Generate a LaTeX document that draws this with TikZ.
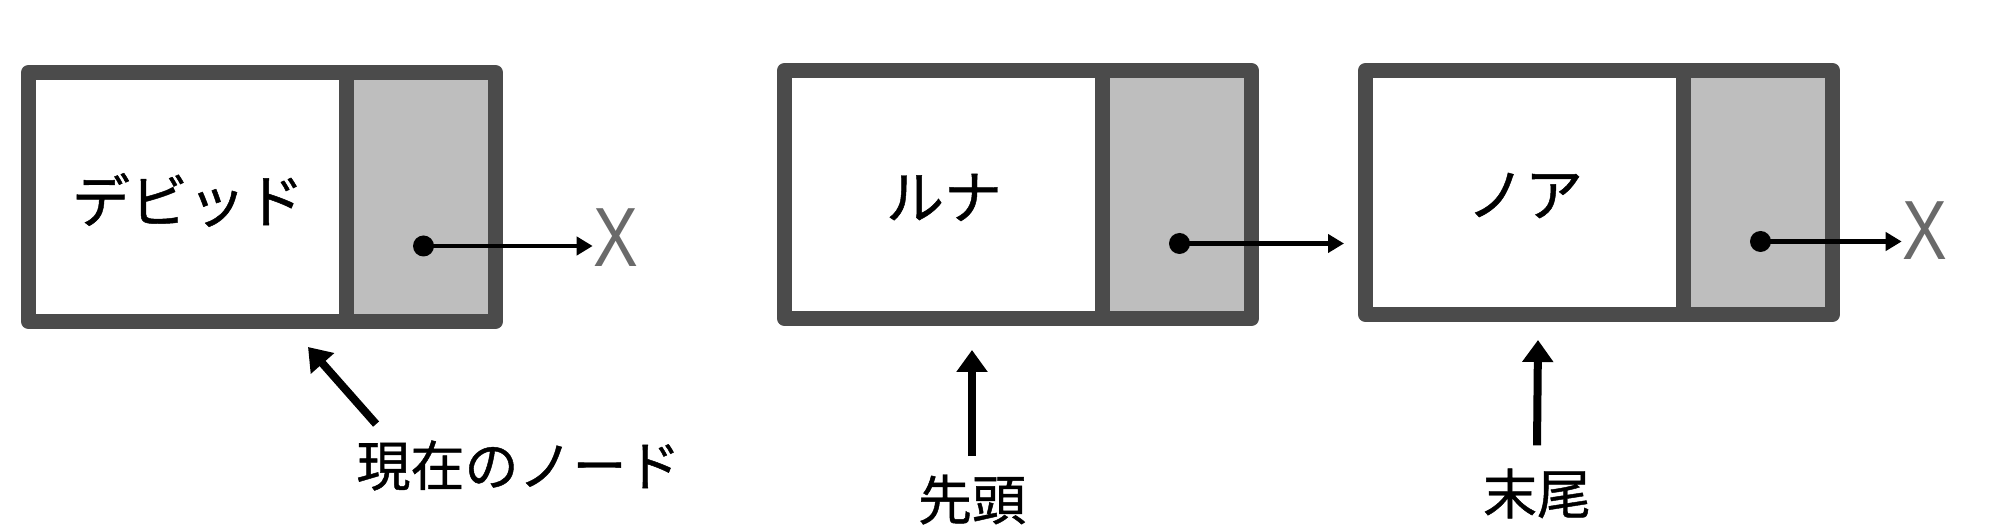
\documentclass[tikz,border=0pt]{standalone}
\usepackage{fontspec}
\setmainfont{Liberation Sans}
\newfontfamily\jpfont[FakeBold=0.8]{Noto Sans CJK JP}
\usetikzlibrary{arrows.meta,calc}
\pgfdeclarelayer{bg}
\pgfsetlayers{bg,main}
\definecolor{boxline}{HTML}{4B4B4B}
\definecolor{ptrfill}{HTML}{BEBEBE}
\definecolor{nilgray}{HTML}{6A6A6A}
\tikzset{
  cellbox/.style={rectangle, draw=boxline, line width=7.5pt, line join=round,
    minimum width=233.5pt, inner sep=0pt, outer sep=0pt},
  divline/.style={draw=boxline, line width=7.5pt},
  celltext/.style={font=\jpfont\fontsize{29}{34}\selectfont, inner sep=0pt},
  labeltext/.style={font=\jpfont\fontsize{27}{32}\selectfont, inner sep=0pt},
  ptrdot/.style={circle, fill=black, minimum size=10.5pt, inner sep=0pt},
  ptrarrow/.style={draw=black, line width=2.2pt, -{Triangle[length=8pt,width=9pt]}},
  labarrow/.style={draw=black, line width=4pt, -{Triangle[length=11pt,width=15pt]}},
  niltext/.style={font=\fontsize{42}{42}\selectfont, text=nilgray, inner sep=0pt},
}
\begin{document}
\begin{tikzpicture}[x=0.5pt,y=-0.5pt]
\begin{pgfonlayer}{bg}
  \fill[white] (0,0) rectangle (2016,528);
\end{pgfonlayer}
\useasboundingbox (0,0) rectangle (2016,528);
\foreach \nm/\cx/\cy/\h/\txt in {n1/262/197/249/デビッド, n2/1018/194.5/248/ルナ, n3/1599/192.5/244/ノア}{
  \node[cellbox, minimum height=\h*0.5pt] (\nm) at (\cx,\cy) {};
  \coordinate (\nm-dt) at ($(\nm.north west)+(318,0)$);
  \coordinate (\nm-db) at ($(\nm.south west)+(318,0)$);
  \begin{pgfonlayer}{bg}
    \fill[ptrfill] (\nm-dt) rectangle (\nm.south east);
  \end{pgfonlayer}
  \draw[divline] (\nm-dt) -- (\nm-db);
  \node[celltext] (\nm-t) at ($(\nm.west)+(159.5,3)$) {\txt};
  \node[ptrdot] (\nm-dot) at ($(\nm.center)+(161.5,49)$) {};
}
\node[niltext] (x1) at (615.5,237.5) {\scalebox{0.8}[1]{X}};
\node[niltext] (x3) at (1924.5,231) {\scalebox{0.8}[1]{X}};
\draw[ptrarrow] (n1-dot.center) -- (n1-dot.center -| x1.west);
\draw[ptrarrow] (n2-dot.center) -- ([xshift=-10.75pt]n2-dot.center -| n3.west);
\draw[ptrarrow] (n3-dot.center) -- (n3-dot.center -| x3.west);
\node[labeltext] (l1) at (518.5,465.5) {現在のノード};
\node[labeltext] (l2) at (972,499.5) {先頭};
\node[labeltext] (l3) at (1537,493.5) {末尾};
\draw[labarrow] ([shift={(20,-16)}]l1.north west) -- ([shift={(46,25.5)}]n1.south);
\draw[labarrow] ([yshift=9pt]l2.north) -- ($(n2.south)+(-46,31.5)$);
\draw[labarrow] ([yshift=11.5pt]l3.north) -- ($(n3.south)+(-61,25.5)$);
\end{tikzpicture}
\end{document}
